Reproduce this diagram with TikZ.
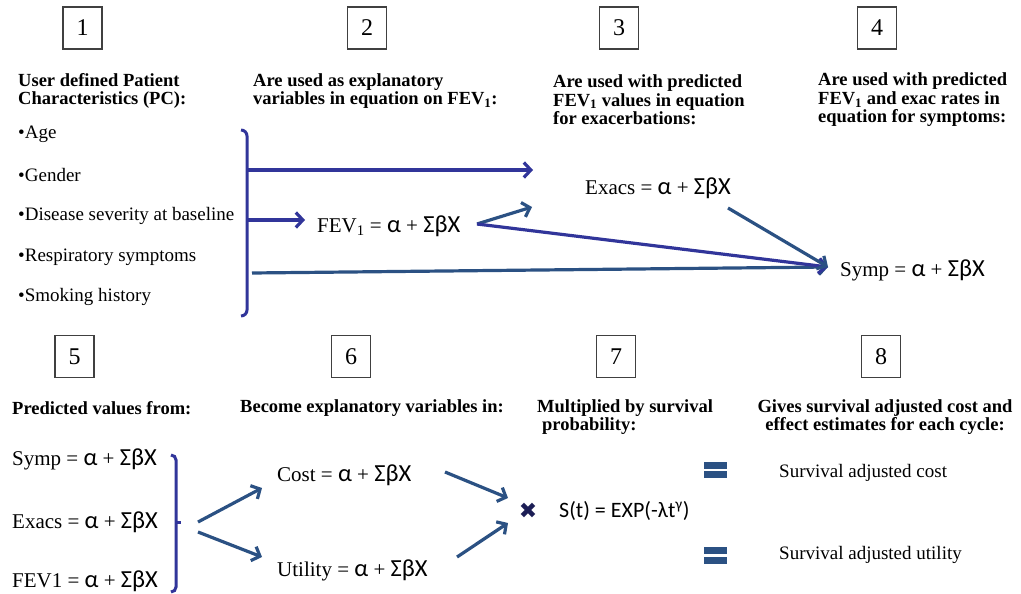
\documentclass[tikz,border=0pt]{standalone}
\usepackage{fontspec}
\setmainfont{Liberation Serif}
\newfontfamily\sansf{Carlito}
\newfontfamily\dejavu{DejaVu Sans}
\usetikzlibrary{arrows.meta}
\definecolor{purp}{HTML}{31359A}
\definecolor{steel}{HTML}{2B5183}
\newcommand\sx{\sansf\fontsize{24.5}{24}\selectfont}
\newcommand\eqn[1]{#1 = {\sx α} + {\sx ΣβX}}
\newcommand\sub[1]{\smash{\textsubscript{#1}}}
\tikzset{
  numbox/.style={draw=black!75, line width=1.1pt, minimum width=39pt, minimum height=42pt, inner sep=0pt, font=\fontsize{24}{24}\selectfont},
  head/.style={anchor=west, align=left, inner sep=0pt, font=\bfseries\fontsize{18.5}{18.5}\selectfont},
  bul/.style={anchor=west, inner sep=0pt, font=\fontsize{19}{19}\selectfont},
  eqnode/.style={anchor=west, inner sep=0pt, font=\fontsize{21}{21}\selectfont},
  conn/.style={line width=3.2pt, -{Straight Barb[length=7pt,width=15pt]}},
  brk/.style={line width=3pt, purp},
  eqbar/.style={fill=steel}
}
\begin{document}
\begin{tikzpicture}[x=1pt,y=-1pt]
\useasboundingbox (0,0) rectangle (1021,594);
% number boxes
\node[numbox] (n1) at (82.5,28) {1};
\node[numbox] (n2) at (367,28) {2};
\node[numbox] (n3) at (619,28) {3};
\node[numbox] (n4) at (877,28) {4};
\node[numbox] (n5) at (74.5,356.5) {5};
\node[numbox] (n6) at (351,356.5) {6};
\node[numbox] (n7) at (616,356.5) {7};
\node[numbox] (n8) at (881,356.5) {8};
% headings
\node[head] (h1) at (18,91) {User defined Patient\\Characteristics (PC):};
\node[head] (h2) at (253,91) {Are used as explanatory\\variables in equation on FEV\sub{1}:};
\node[head] (h3) at (553,100) {Are used with predicted\\FEV\sub{1} values in equation\\for exacerbations:};
\node[head] (h4) at (818,100) {Are used with predicted\\FEV\sub{1} and exac rates in\\equation for symptoms:};
\node[head] (h5) at (12,408) {Predicted values from:};
\node[head] (h6) at (240,408) {Become explanatory variables in:};
\node[head] (h7) at (537,417) {Multiplied by survival\\\hspace*{5pt}probability:};
\node[head, anchor=center, align=center] (h8) at (885,417) {Gives survival adjusted cost and\\effect estimates for each cycle:};
% bullets
\node[bul] (b1) at (18,134) {•Age};
\node[bul] (b2) at (18,175) {•Gender};
\node[bul] (b3) at (18,216) {•Disease severity at baseline};
\node[bul] (b4) at (18,257) {•Respiratory symptoms};
\node[bul] (b5) at (18,297) {•Smoking history};
% equations top
\node[eqnode] (fev) at (317,226) {\eqn{FEV\textsubscript{1}}};
\node[eqnode] (exacs) at (585,188) {\eqn{Exacs}};
\node[eqnode] (symp) at (840,270) {\eqn{Symp}};
% bracket 1
\draw[brk] (241,130) to[out=0,in=90] (247,136) -- (247,310) to[out=-90,in=0] (241,316);
\coordinate (k1) at (247,170);
\coordinate (k2) at (247,220);
\coordinate (k3) at (252,273);
\coordinate (t1) at (533,170);
\coordinate (fevin) at (305,220);
\coordinate (fevout) at (477,224);
\coordinate (exin) at (532,207);
\coordinate (exout) at (728,208);
\coordinate (sympin) at (828,267);
\draw[conn, purp] (k1) -- (t1);
\draw[conn, purp] (k2) -- (fevin);
\draw[conn, steel] (k3) -- (sympin);
\draw[conn, steel] (fevout) -- (exin);
\draw[conn, purp] (fevout) -- (sympin);
\draw[conn, steel] (exout) -- (sympin);
% bottom left equations
\node[eqnode] (symp2) at (12,459) {\eqn{Symp}};
\node[eqnode] (exacs2) at (12,522) {\eqn{Exacs}};
\node[eqnode] (fev2) at (12,581) {\eqn{FEV1}};
% bracket 2
\draw[brk] (171,455) to[out=0,in=90] (176,460) -- (176,587) to[out=-90,in=0] (171,592);
\draw[brk] (176,522) -- (181,522);
\coordinate (s1) at (198,522);
\coordinate (s2) at (198,532);
\coordinate (costin) at (262,488);
\coordinate (utilin) at (262,557);
\draw[conn, steel] (s1) -- (costin);
\draw[conn, steel] (s2) -- (utilin);
\node[eqnode] (cost) at (277,475) {\eqn{Cost}};
\node[eqnode] (util) at (277,570) {\eqn{Utility}};
\node[inner sep=0pt, text=purp!55!black, font=\dejavu\fontsize{22}{22}\selectfont] (times) at (528,511) {✖};
\coordinate (costout) at (445,472);
\coordinate (utilout) at (457,557);
\coordinate (tin1) at (508,498);
\coordinate (tin2) at (508,523);
\draw[conn, steel] (costout) -- (tin1);
\draw[conn, steel] (utilout) -- (tin2);
\node[anchor=west, inner sep=0pt, font=\sansf\fontsize{22}{22}\selectfont] (surv) at (559,511) {S(t) = EXP(-λt\textsuperscript{γ})};
% equals signs
\fill[eqbar] (704,461.5) rectangle (727,468.5);
\fill[eqbar] (704,471) rectangle (727,478);
\fill[eqbar] (704,547) rectangle (727,554);
\fill[eqbar] (704,556.5) rectangle (727,563.5);
\node[bul] (sac) at (779,473) {Survival adjusted cost};
\node[bul] (sau) at (779,555) {Survival adjusted utility};
\end{tikzpicture}
\end{document}
